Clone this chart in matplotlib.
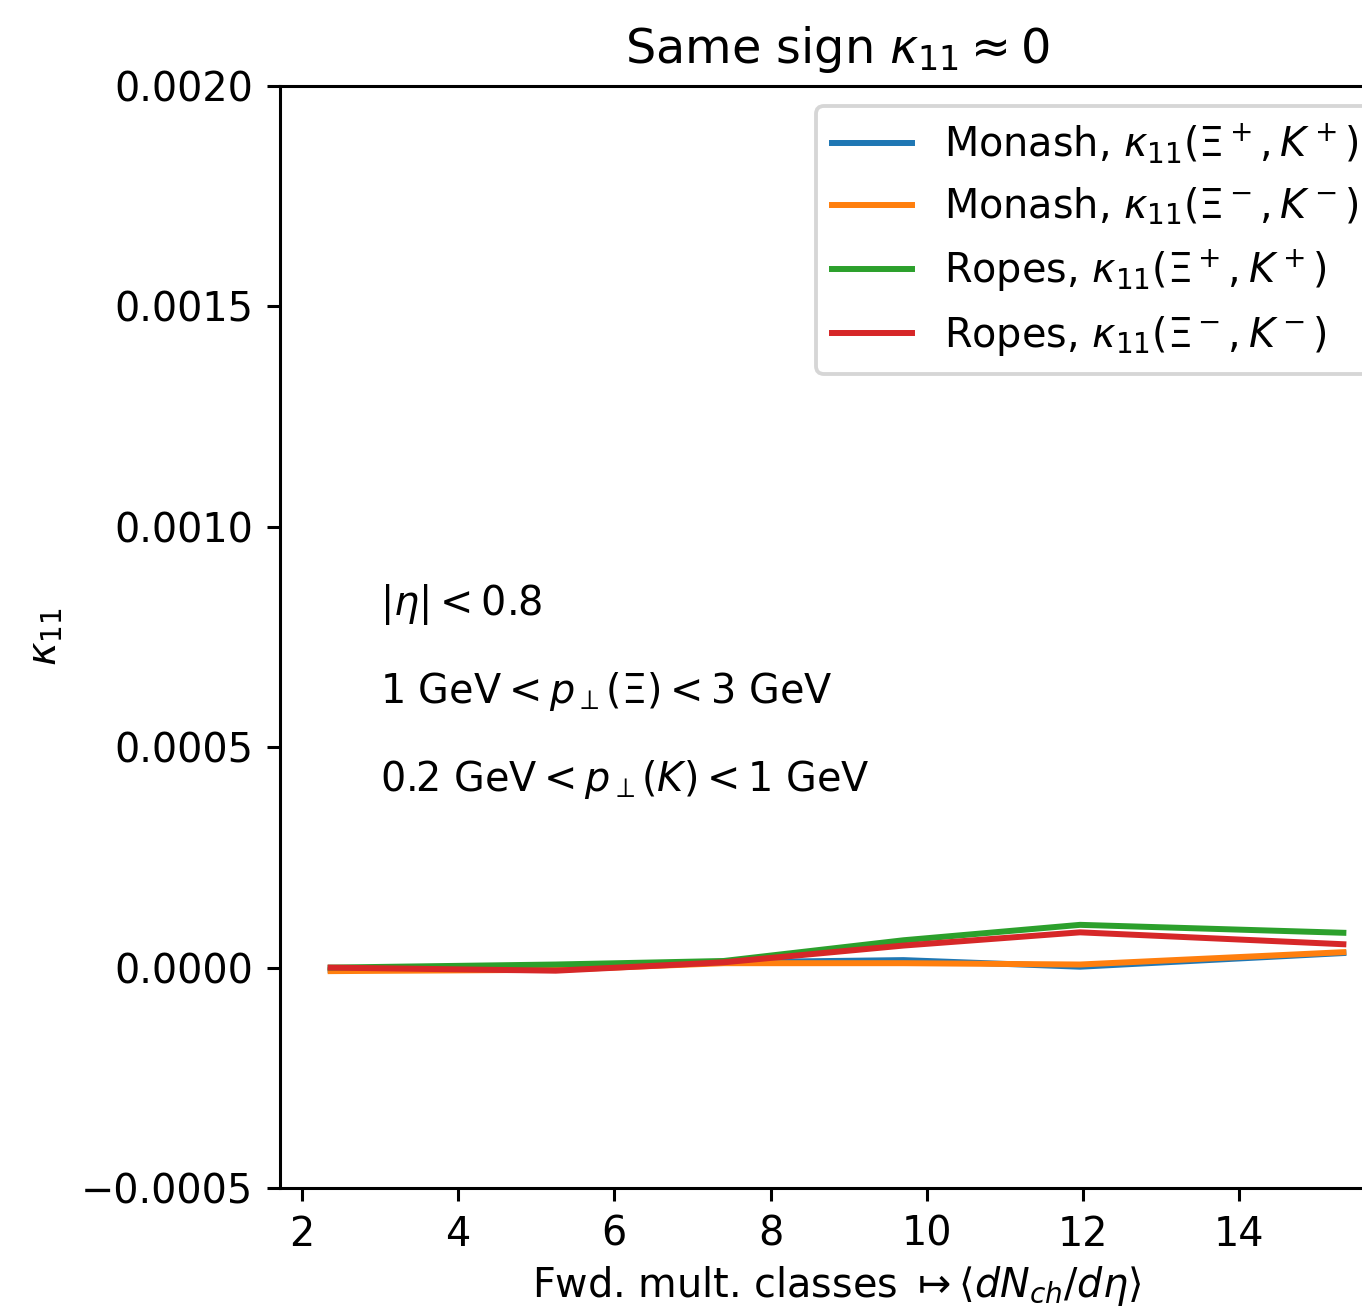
import matplotlib
matplotlib.use("Agg")
import matplotlib.pyplot as plt

# Data
x_mult = [2.37, 5.25, 7.4, 9.7, 11.96, 15.33]
monash_plus = [-0.05e-4, -0.04e-4, 0.12e-4, 0.17e-4, 0.02e-4, 0.33e-4]
monash_minus = [-0.08e-4, -0.05e-4, 0.10e-4, 0.10e-4, 0.07e-4, 0.35e-4]
ropes_plus = [0.0, 0.07e-4, 0.15e-4, 0.62e-4, 0.97e-4, 0.79e-4]
ropes_minus = [0.0, -0.07e-4, 0.12e-4, 0.50e-4, 0.80e-4, 0.53e-4]

labels = [
    r"Monash, $\kappa_{11}(\Xi^+,K^+)$",
    r"Monash, $\kappa_{11}(\Xi^-,K^-)$",
    r"Ropes, $\kappa_{11}(\Xi^+,K^+)$",
    r"Ropes, $\kappa_{11}(\Xi^-,K^-)$",
]
yticks = [-0.0005, 0.0, 0.0005, 0.0010, 0.0015, 0.0020]
xticks = [2, 4, 6, 8, 10, 12, 14]
notes = [r"$|\eta| < 0.8$",
         r"1 GeV$ < p_\perp(\Xi) < $3 GeV",
         r"0.2 GeV$ < p_\perp(K) < $1 GeV"]
note_y = [0.0008, 0.0006, 0.0004]

s = 1.043
plt.rcParams["font.size"] = 10 * s
plt.rcParams["axes.titlesize"] = 12 * s
plt.rcParams["lines.linewidth"] = 1.5 * s

dpi = 275
fig = plt.figure(figsize=(1362 / dpi, 1308 / dpi), dpi=dpi)
ax = fig.add_axes([280 / 1362, 1 - 1188 / 1308, 1114 / 1362, (1188 - 86) / 1308])

for series, lab in zip([monash_plus, monash_minus, ropes_plus, ropes_minus], labels):
    ax.plot(x_mult, series, label=lab)

for t, yy in zip(notes, note_y):
    ax.text(3, yy, t)

ax.set_ylim(-0.0005, 0.002)
ax.set_yticks(yticks)
ax.set_xticks(xticks)
ax.set_title(r"Same sign $\kappa_{11} \approx 0$")
ax.set_ylabel(r"$\kappa_{11}$")
ax.set_xlabel(r"Fwd. mult. classes $\mapsto \langle dN_{ch}/d\eta\rangle$", labelpad=2.5)
ax.legend(loc="upper right")

fig.savefig("out.png", dpi=dpi)
